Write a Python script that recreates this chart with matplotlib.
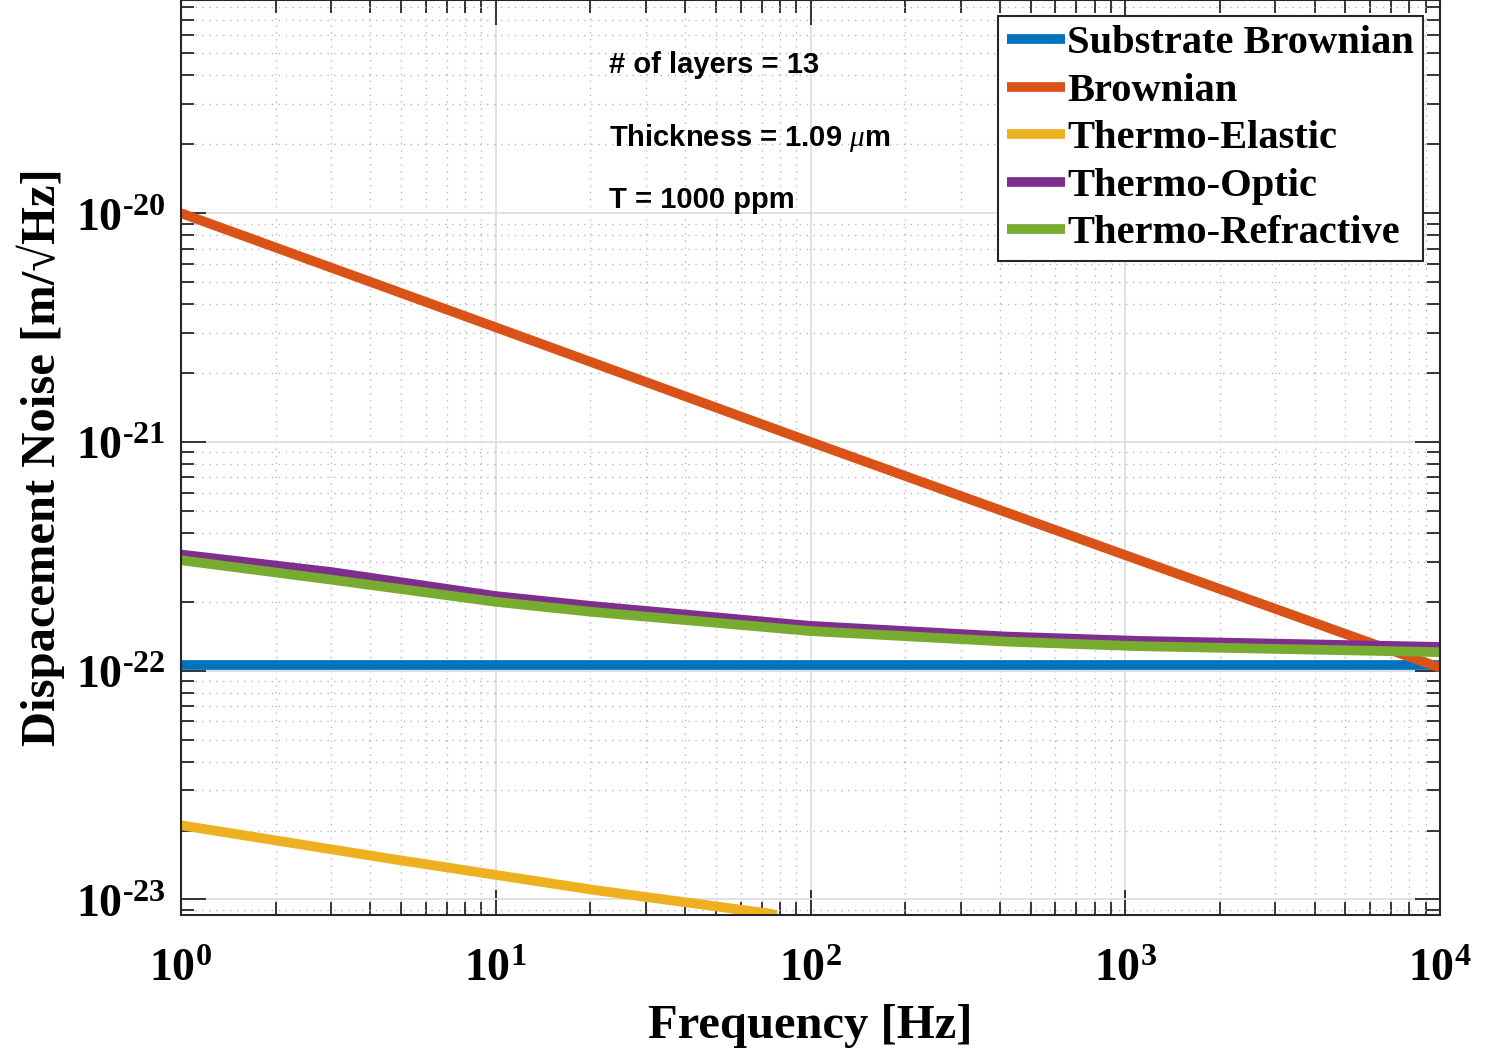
import numpy as np
import matplotlib
matplotlib.use("Agg")
import matplotlib.pyplot as plt
from matplotlib.ticker import FixedLocator, LogLocator, FuncFormatter, NullFormatter

plt.rcParams['mathtext.fontset'] = 'custom'
plt.rcParams['mathtext.rm'] = 'Liberation Serif:bold'
plt.rcParams['mathtext.bf'] = 'Liberation Serif:bold'
plt.rcParams['mathtext.it'] = 'Liberation Serif:italic'

# ---------------- data ----------------
freq_sub = [1, 10000]
substrate_brownian = [1.06e-22, 1.06e-22]

freq_br = [1, 10, 100, 1000, 10000]
brownian = [1.0e-20, 3.17e-21, 1.0e-21, 3.2e-22, 1.03e-22]

freq_te = [1, 4.57, 10, 20.5, 73.3, 78]
thermo_elastic = [2.11e-23, 1.51e-23, 1.28e-23, 1.10e-23, 8.69e-24, 8.55e-24]

freq_t = [1, 3, 10, 20, 100, 420, 1100, 10000]
thermo_optic = [3.22e-22, 2.70e-22, 2.12e-22, 1.92e-22, 1.57e-22, 1.41e-22, 1.35e-22, 1.27e-22]
thermo_refractive = [3.04e-22, 2.50e-22, 2.00e-22, 1.81e-22, 1.49e-22, 1.34e-22, 1.28e-22, 1.205e-22]

labels = ['Substrate Brownian', 'Brownian', 'Thermo-Elastic', 'Thermo-Optic', 'Thermo-Refractive']
colors = ['#0072BD', '#D95319', '#EDB120', '#7E2F8E', '#77AC30']

x_major = [1, 10, 100, 1000, 10000]
y_major = [1e-23, 1e-22, 1e-21, 1e-20]

# ---------------- figure ----------------
fig = plt.figure(figsize=(14.98, 10.53), dpi=100)
ax = fig.add_axes([181/1498, 138/1053, 1259/1498, 915/1053])

series = [(freq_sub, substrate_brownian), (freq_br, brownian), (freq_te, thermo_elastic),
          (freq_t, thermo_optic), (freq_t, thermo_refractive)]
for (f, v), lab, c in zip(series, labels, colors):
    ax.plot(f, v, color=c, lw=7, label=lab, solid_capstyle='butt')

ax.set_xscale('log')
ax.set_yscale('log')
ax.set_xlim(1, 1e4)
ax.set_ylim(8.55e-24, 8.55e-20)

ax.xaxis.set_major_locator(FixedLocator(x_major))
ax.yaxis.set_major_locator(FixedLocator(y_major))
ax.xaxis.set_minor_locator(LogLocator(base=10, subs=np.arange(2, 10)))
ax.yaxis.set_minor_locator(LogLocator(base=10, subs=np.arange(2, 10), numticks=20))
ax.xaxis.set_minor_formatter(NullFormatter())
ax.yaxis.set_minor_formatter(NullFormatter())

def fmt(v, pos):
    e = int(round(np.log10(v)))
    s = str(e).replace('-', r'\text{-}')
    return r'$10^{' + s + '}$'

ax.xaxis.set_major_formatter(FuncFormatter(fmt))
ax.yaxis.set_major_formatter(FuncFormatter(fmt))

ax.tick_params(which='both', direction='in', top=True, right=True, color='#262626', width=1.3)
ax.tick_params(which='major', length=18, labelsize=33)
ax.tick_params(which='minor', length=9.5)
ax.tick_params(axis='x', which='major', pad=22)
ax.tick_params(axis='y', which='major', pad=11)

ax.grid(which='major', color='#dcdcdc', lw=1.2, ls='-')
ax.grid(which='minor', color='#b8b8b8', lw=1.0, ls=(0, (1, 4)))
ax.set_axisbelow(True)
for sp in ax.spines.values():
    sp.set_color('#262626')
    sp.set_linewidth(1.5)

ax.set_xlabel('Frequency [Hz]', fontsize=35, fontfamily=['Liberation Serif', 'DejaVu Serif'],
              fontweight='bold', labelpad=10)
ax.set_ylabel('Dispacement Noise [m/\u221aHz]', fontsize=35,
              fontfamily=['Liberation Serif', 'DejaVu Serif'], fontweight='bold', labelpad=8)

tkw = dict(transform=ax.transAxes, fontsize=21, fontfamily='Liberation Sans', fontweight='bold',
           va='baseline', ha='left')
ax.text(0.34, 0.920, '# of layers = 13', **tkw)
ax.text(0.34, 0.840, r'Thickness = 1.09 $\mu$m', **tkw)
ax.text(0.34, 0.773, 'T = 1000 ppm', **tkw)

leg = ax.legend(loc='upper right', bbox_to_anchor=(0.9865, 0.9825), borderaxespad=0,
                prop={'family': 'Liberation Serif', 'weight': 'bold', 'size': 29.2},
                handlelength=1.44, handletextpad=0.05, labelspacing=0.25, borderpad=0.22,
                fancybox=False, framealpha=1, edgecolor='#262626')
leg.get_frame().set_linewidth(1.5)

fig.savefig('out.png', dpi=100)
